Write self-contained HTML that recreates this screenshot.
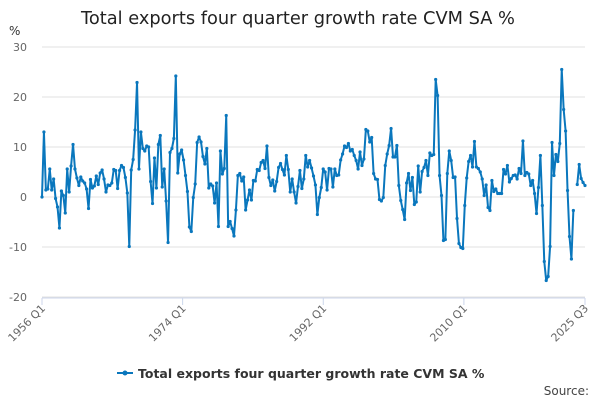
<!DOCTYPE html>
<html><head><meta charset="utf-8"><style>
body{margin:0;background:#fff;font-family:"DejaVu Sans","Liberation Sans",sans-serif;}
svg{display:block}
</style></head><body>
<svg id="chart" width="600" height="400" xmlns="http://www.w3.org/2000/svg" font-family="DejaVu Sans, Liberation Sans, sans-serif">
<rect width="600" height="400" fill="#fff"/>
<text x="298" y="24" text-anchor="middle" font-size="17.8" fill="#222">Total exports four quarter growth rate CVM SA %</text>
<text x="9" y="35" font-size="12" fill="#333">%</text>
<g id="grid"></g><g id="xaxis"></g><g id="series"></g>
<g>
<line x1="117" y1="373" x2="133" y2="373" stroke="#0a77bd" stroke-width="2"/>
<circle cx="125" cy="373" r="2.5" fill="#0a77bd"/>
<text x="138" y="378" font-size="12.5" font-weight="bold" fill="#333">Total exports four quarter growth rate CVM SA %</text>
</g>
<text x="589" y="395" text-anchor="end" font-size="12" fill="#444">Source:</text>
</svg>
<script>
const yTicks=[30,20,10,0,-10,-20];
const xTickIdx=[0,72,144,216,278];
const xTickLabels=["1956 Q1","1974 Q1","1992 Q1","2010 Q1","2025 Q3"];
const values=[0,13,1.4,1.6,5.6,1.4,3.6,-0.3,-2,-6.2,1.2,0.3,-3.2,5.6,1,6.2,10.5,5.6,3.8,2.3,4,3.2,2.8,1.6,-2.3,3.5,1.8,2.2,4.2,2.5,4.8,5.4,3.6,1,2.4,2.3,2.8,5.5,5.3,1.7,5.3,6.3,5.9,3.9,0.8,-9.9,5.4,
7.5,13.4,22.9,5.6,13,9.7,9.2,10.2,10,3.1,-1.3,7.8,1.8,10.5,12.3,2,5.6,-0.8,-9.1,8.9,9.7,11.7,24.2,4.8,8.6,9.4,7.4,4.3,1.1,-6,-6.9,-0.1,2.6,10.9,12,11,8.1,6.6,9.7,1.8,2.6,2.2,-1.2,2.8,-5.9,9.2,4.6,5.7,16.3,
-5.9,-4.9,-6.3,-7.8,-2.6,4.3,4.7,3.2,4,-2.6,-0.6,1.4,-0.6,3.3,3.2,5.5,5.3,6.9,7.3,5.7,10.2,3.9,2.3,3.4,1.2,3.1,5.9,6.7,5.5,4.4,8.3,5.5,1,3.6,1,-1.2,2.1,5.3,1.7,3.6,8.3,6,7.3,5.8,4.2,2.4,-3.5,-0.1,1.9,5.6,
5,1.4,5.7,5.6,2,5.6,4.3,4.4,7.4,8.6,10.2,9.9,10.7,9.2,9.5,8.3,7.3,5.6,9,6.3,7.6,13.5,13.2,11,11.9,4.7,3.6,3.5,-0.5,-0.8,-0.1,6.3,8.6,10.3,13.7,8,8,10.3,2.3,-0.7,-2.5,-4.5,2.8,4.7,1.3,3.9,-1.5,-1,6.2,
1,5.1,5.9,7.3,4.3,8.8,8.3,8.5,23.5,20.3,4.3,0.3,-8.7,-8.5,4.7,9.2,7.3,3.9,4,-4.3,-9.3,-10.1,-10.3,-1.7,3.8,7.1,8.3,6,11.1,6,5.7,5,3.6,0.3,2.4,-2.1,-2.7,3.3,1.1,1.6,0.7,0.7,0.7,5.5,4.6,6.3,3,
3.7,4.3,4.4,3.6,5.7,4.7,11.2,4.3,4.9,4.6,2.3,3.3,0.7,-3.3,1.9,8.3,-1.7,-12.9,-16.7,-15.9,-9.9,10.9,4.3,8.5,7.1,10.7,25.5,17.5,13.2,1.3,-7.9,-12.4,-2.7,null,2.5,6.5,3.7,2.9,2.3];
const NS="http://www.w3.org/2000/svg";
const X0=42,X1=585,Y0=47,Y1=297;
const xs=i=>X0+i*(X1-X0)/(values.length-1);
const xt=i=>X0+i*(X1-X0)/278;
const ys=v=>Y1-(v+20)*(Y1-Y0)/50;
function mk(t,a,p){const e=document.createElementNS(NS,t);for(const k in a)e.setAttribute(k,a[k]);p.appendChild(e);return e;}
const grid=document.getElementById('grid');
yTicks.forEach(v=>{
 const l=mk('line',{x1:X0,x2:X1,y1:ys(v),y2:ys(v),stroke:'#e0e0e0','stroke-width':1},grid);
 
 
 const t=mk('text',{x:27,y:ys(v)+4,'text-anchor':'end','font-size':11,fill:'#666'},grid);
 t.textContent=v;
 
 
});
const xa=document.getElementById('xaxis');
const ax=mk('line',{x1:X0,x2:X1,y1:Y1+1,y2:Y1+1,stroke:'#ccd6eb','stroke-width':1},xa);


xTickIdx.forEach((q,k)=>{
 const x=xt(q);
 const tk=mk('line',{x1:x,x2:x,y1:Y1+1,y2:Y1+8,stroke:'#ccd6eb'},xa);
 
 
 const t=mk('text',{x:x+4,y:Y1+12,'text-anchor':'end','font-size':11,fill:'#666',transform:`rotate(-45 ${x+4} ${Y1+12})`},xa);
 t.textContent=xTickLabels[k];
 
 
});
const sg=document.getElementById('series');
let d='',pen=false;
values.forEach((v,i)=>{if(v===null){pen=false;return;}d+=(pen?'L':'M')+xs(i).toFixed(2)+' '+ys(v).toFixed(2);pen=true;});
const p=mk('path',{d:d,fill:'none',stroke:'#0a77bd','stroke-width':2,'stroke-linejoin':'round'},sg);


values.forEach((v,i)=>{if(v===null)return;
 const c=mk('circle',{cx:xs(i),cy:ys(v),r:1.6,fill:'#0a77bd'},sg);
 
 
});
</script>
</body></html>
